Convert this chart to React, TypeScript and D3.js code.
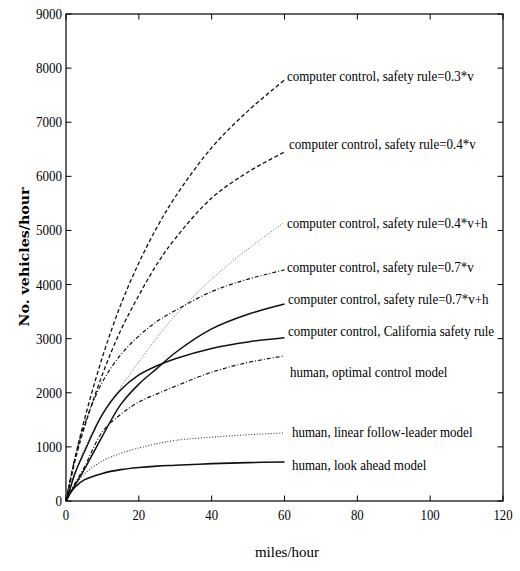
import React from "react";
import * as d3 from "d3";

// Speed samples (miles/hour) shared by every series
const speeds = [0, 1, 2.5, 5, 10, 15, 20, 25, 30, 40, 50, 60];

// Throughput (vehicles/hour) for each control model
const rule03v = [0, 330, 800, 1490, 2660, 3620, 4400, 5060, 5620, 6530, 7210, 7780];
const rule04v = [0, 300, 750, 1350, 2340, 3150, 3800, 4380, 4850, 5600, 6080, 6450];
const rule04vh = [0, 220, 520, 950, 1620, 2100, 2570, 3020, 3430, 4100, 4660, 5150];
const rule07v = [0, 350, 800, 1400, 2200, 2700, 3050, 3320, 3520, 3870, 4100, 4270];
const rule07vh = [0, 130, 300, 580, 1200, 1780, 2160, 2450, 2740, 3180, 3450, 3640];
const california = [0, 200, 520, 900, 1600, 2050, 2330, 2500, 2630, 2820, 2940, 3015];
const humanOptimal = [0, 150, 330, 620, 1280, 1600, 1830, 1980, 2120, 2380, 2560, 2680];
const humanLinear = [0, 110, 280, 500, 740, 880, 980, 1060, 1120, 1180, 1225, 1257];
const humanLookAhead = [0, 130, 260, 390, 510, 580, 620, 645, 660, 690, 710, 721];

const seriesLabels = [
  "computer control, safety rule=0.3*v",
  "computer control, safety rule=0.4*v",
  "computer control, safety rule=0.4*v+h",
  "computer control, safety rule=0.7*v",
  "computer control, safety rule=0.7*v+h",
  "computer control, California safety rule",
  "human, optimal control model",
  "human, linear follow-leader model",
  "human, look ahead model",
];

const xTicks = [0, 20, 40, 60, 80, 100, 120];
const yTicks = [0, 1000, 2000, 3000, 4000, 5000, 6000, 7000, 8000, 9000];

type Style = { dash?: string; width: number; color: string };
const seriesData = [rule03v, rule04v, rule04vh, rule07v, rule07vh, california, humanOptimal, humanLinear, humanLookAhead];
const styles: Style[] = [
  { dash: "4,2.5", width: 1.3, color: "#111" },
  { dash: "4,2.5", width: 1.3, color: "#111" },
  { dash: "1,1.8", width: 1, color: "#666" },
  { dash: "4,2,1,2", width: 1.2, color: "#111" },
  { width: 1.5, color: "#111" },
  { width: 1.5, color: "#111" },
  { dash: "4,2,1,2", width: 1.2, color: "#111" },
  { dash: "1,1.8", width: 1.1, color: "#333" },
  { width: 1.6, color: "#111" },
];
// label anchor: [x px, baseline px]
const labelPos: [number, number][] = [
  [287, 81], [289, 149], [287, 228], [287, 272], [288, 304],
  [288, 336], [290, 377], [292, 437], [292, 470],
];

export default function App() {
  const W = 520, H = 571;
  const left = 66, right = 503, top = 14, bottom = 501;
  const x = d3.scaleLinear().domain([0, 120]).range([left, right]);
  const y = d3.scaleLinear().domain([0, 9000]).range([bottom, top]);
  const line = d3
    .line<[number, number]>()
    .x((d) => x(d[0]))
    .y((d) => y(d[1]))
    .curve(d3.curveCatmullRom.alpha(0.5));
  const serif = "'Liberation Serif', 'Times New Roman', serif";
  const tickLen = 5.5;

  return (
    <svg
      width={W}
      height={H}
      viewBox={`0 0 ${W} ${H}`}
      style={{ position: "absolute", left: 0, top: 0, background: "#fff" }}
    >
      <rect x={0} y={0} width={W} height={H} fill="#fff" />
      {seriesData.map((vals, i) => (
        <path
          key={i}
          d={line(speeds.map((s, j) => [s, vals[j]] as [number, number])) || ""}
          fill="none"
          stroke={styles[i].color}
          strokeWidth={styles[i].width}
          strokeDasharray={styles[i].dash}
        />
      ))}
      {seriesLabels.map((t, i) => (
        <text
          key={t}
          x={labelPos[i][0]}
          y={labelPos[i][1]}
          fontFamily={serif}
          fontSize={14}
          fill="#000"
          transform={`translate(${labelPos[i][0]},0) scale(0.93,1) translate(${-labelPos[i][0]},0)`}
        >
          {t}
        </text>
      ))}
      {/* frame */}
      <rect x={left} y={top} width={right - left} height={bottom - top} fill="none" stroke="#000" strokeWidth={1.2} />
      {xTicks.map((t) => (
        <g key={"x" + t}>
          <line x1={x(t)} x2={x(t)} y1={bottom} y2={bottom - tickLen} stroke="#000" strokeWidth={1} />
          <line x1={x(t)} x2={x(t)} y1={top} y2={top + tickLen} stroke="#000" strokeWidth={1} />
          <text
            x={x(t)}
            y={520}
            textAnchor="middle"
            fontFamily={serif}
            fontSize={15}
            transform={`translate(${x(t)},0) scale(0.85,1) translate(${-x(t)},0)`}
          >
            {t}
          </text>
        </g>
      ))}
      {yTicks.map((t) => (
        <g key={"y" + t}>
          <line x1={left} x2={left + tickLen} y1={y(t)} y2={y(t)} stroke="#000" strokeWidth={1} />
          <line x1={right} x2={right - tickLen} y1={y(t)} y2={y(t)} stroke="#000" strokeWidth={1} />
          <text
            x={62}
            y={y(t) + 5}
            textAnchor="end"
            fontFamily={serif}
            fontSize={14.5}
            transform={`translate(62,0) scale(0.9,1) translate(-62,0)`}
          >
            {t}
          </text>
        </g>
      ))}
      <text x={287} y={557} textAnchor="middle" fontFamily={serif} fontSize={15}>
        miles/hour
      </text>
      <text
        transform="translate(29,257) rotate(-90)"
        textAnchor="middle"
        fontFamily="'DejaVu Serif', serif"
        fontWeight="bold"
        fontSize={13.5}
        textLength={139}
        lengthAdjust="spacingAndGlyphs"
      >
        No. vehicles/hour
      </text>
    </svg>
  );
}
